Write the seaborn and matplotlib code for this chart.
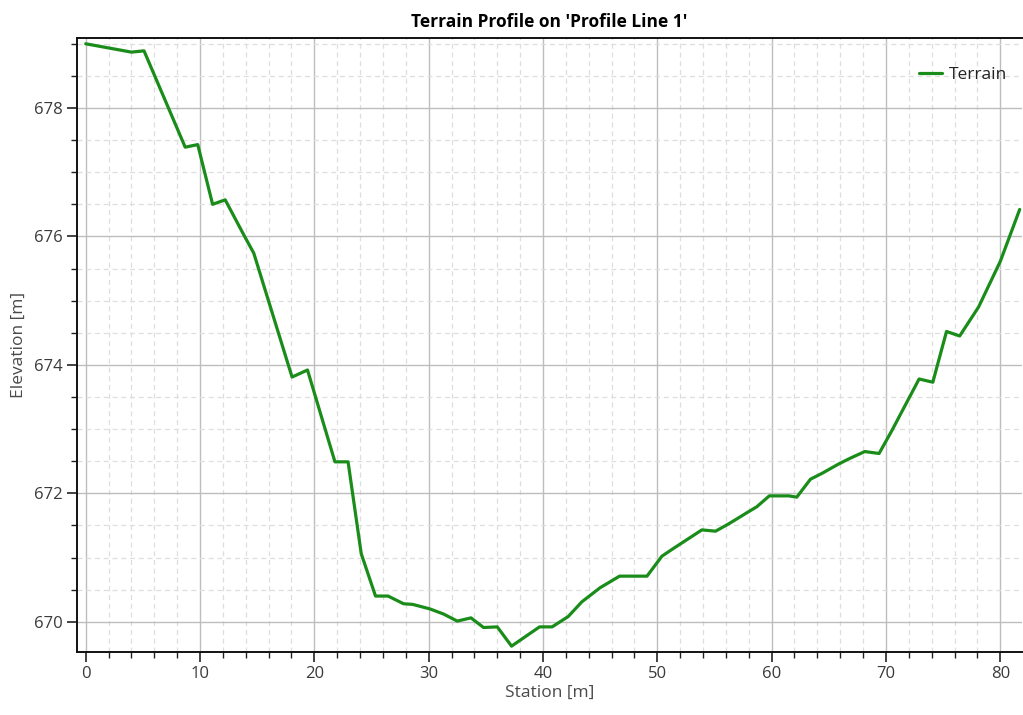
import matplotlib
matplotlib.use("Agg")
import matplotlib.pyplot as plt
from matplotlib.ticker import MultipleLocator
import pandas as pd
import seaborn as sns

# Profilo del terreno
station = [0.0, 4.0, 5.1, 8.7, 9.8, 11.1, 12.2, 13.9, 14.7, 18.05, 19.4,
           21.8, 22.95, 24.1, 25.35, 26.45, 27.8, 28.6, 30.1, 31.3, 32.5,
           33.7, 34.8, 36.0, 37.25, 39.7, 40.8, 42.2, 43.4, 45.0, 46.7,
           49.1, 50.4, 51.4, 53.9, 55.1, 56.3, 57.95, 58.7, 59.8, 61.5,
           62.2, 63.4, 64.4, 65.8, 66.8, 68.15, 69.4, 70.5, 72.9, 74.1,
           75.3, 76.45, 78.1, 80.0, 81.7]
elevation = [679.0, 678.87, 678.89, 677.39, 677.43, 676.50, 676.57, 676.0,
             675.74, 673.81, 673.92, 672.49, 672.49, 671.06, 670.40, 670.40,
             670.28, 670.27, 670.20, 670.12, 670.01, 670.06, 669.91, 669.92,
             669.62, 669.92, 669.92, 670.08, 670.31, 670.53, 670.71, 670.71,
             671.02, 671.14, 671.43, 671.41, 671.53, 671.71, 671.79, 671.96,
             671.96, 671.94, 672.22, 672.31, 672.45, 672.54, 672.65, 672.62,
             672.97, 673.78, 673.73, 674.52, 674.45, 674.90, 675.61, 676.42]

df = pd.DataFrame({"Station [m]": station, "Elevation [m]": elevation})

sns.set_style("white")
plt.rcParams['font.family'] = ['Open Sans', 'DejaVu Sans']

fig = plt.figure(figsize=(10.23, 7.15), dpi=100)
ax = fig.add_axes([0.0753, 0.0885, 0.9237, 0.858])

sns.lineplot(data=df, x="Station [m]", y="Elevation [m]", sort=False,
             color="#1a8c1a", linewidth=2.3, label="Terrain", ax=ax)

ax.set_xlim(-0.76, 81.9)
ax.set_ylim(669.533, 679.086)
ax.xaxis.set_major_locator(MultipleLocator(10))
ax.xaxis.set_minor_locator(MultipleLocator(2))
ax.yaxis.set_major_locator(MultipleLocator(2))
ax.yaxis.set_minor_locator(MultipleLocator(0.5))

# Griglia principale continua, secondaria tratteggiata
ax.grid(which="major", color="#bdbdbd", linewidth=1.0, linestyle="-")
ax.grid(which="minor", color="#dedede", linewidth=0.9, linestyle=(0, (4, 3)))
ax.set_axisbelow(True)

ax.tick_params(which="major", direction="out", length=7, width=1.2,
               color="#222222", labelsize=12, labelcolor="#3a3a3a",
               bottom=True, left=True)
ax.tick_params(which="minor", direction="out", length=4.5, width=1.0,
               color="#222222", bottom=True, left=True)

for side in ["left", "bottom", "top"]:
    ax.spines[side].set_color("#111111")
    ax.spines[side].set_linewidth(1.4)
ax.spines["right"].set_visible(False)

ax.set_xlabel("Station [m]", fontsize=12.5, color="#4a4a4a", labelpad=2)
ax.set_ylabel("Elevation [m]", fontsize=12.5, color="#4a4a4a", labelpad=5)
ax.set_title("Terrain Profile on 'Profile Line 1'", fontsize=12.5,
             fontweight="bold", color="black", pad=8)

ax.legend(loc="upper right", bbox_to_anchor=(0.9915, 0.965), borderaxespad=0,
          frameon=False, fontsize=12.5, handlelength=1.3, handletextpad=0.4,
          labelcolor="#222222")

plt.savefig("out.png", dpi=100)
